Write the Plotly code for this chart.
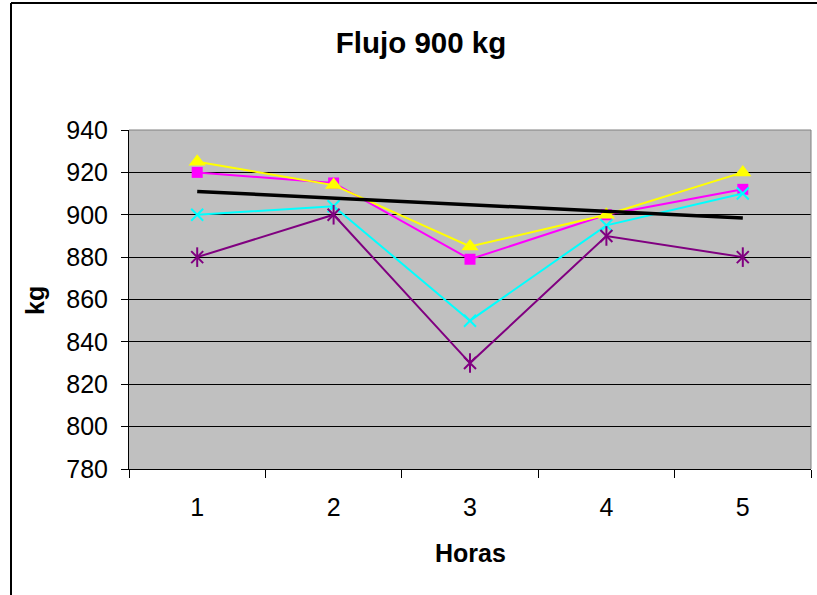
import plotly.graph_objects as go

horas = [1, 2, 3, 4, 5]
tick_labels = ["1", "2", "3", "4", "5"]
serie_cuadro = [920, 915, 879, 900, 912]     # magenta squares
serie_triangulo = [925, 914, 885, 900, 920]  # yellow triangles
serie_equis = [900, 904, 850, 895, 910]      # cyan x
serie_estrella = [880, 900, 830, 890, 880]   # purple stars
tendencia_x = [1, 5]
tendencia_y = [911, 898.5]                   # black trend line
y_ticks = [780, 800, 820, 840, 860, 880, 900, 920, 940]

W, H = 817, 595
L, R, T, B = 129, 6, 130, 126

fig = go.Figure()

fig.add_trace(go.Scatter(x=horas, y=serie_cuadro, mode="lines+markers",
                         line=dict(color="#FF00FF", width=2),
                         marker=dict(symbol="square", size=11, color="#FF00FF")))
fig.add_trace(go.Scatter(x=horas, y=serie_triangulo, mode="lines+markers",
                         line=dict(color="#FFFF00", width=2),
                         marker=dict(symbol="triangle-up", size=15, color="#FFFF00")))
fig.add_trace(go.Scatter(x=horas, y=serie_equis, mode="lines+markers",
                         line=dict(color="#00FFFF", width=2),
                         marker=dict(symbol="x-thin-open", size=12, color="#00FFFF",
                                     line=dict(color="#00FFFF", width=2))))
fig.add_trace(go.Scatter(x=horas, y=serie_estrella, mode="lines+markers",
                         line=dict(color="#800080", width=2),
                         marker=dict(symbol="x-thin-open", size=12, color="#800080",
                                     line=dict(color="#800080", width=2))))
fig.add_trace(go.Scatter(x=horas, y=serie_estrella, mode="markers",
                         marker=dict(symbol="line-ns-open", size=14, color="#800080",
                                     line=dict(color="#800080", width=2))))
fig.add_trace(go.Scatter(x=tendencia_x, y=tendencia_y, mode="lines",
                         line=dict(color="black", width=3.5)))

pw = W - L - R
ph = H - T - B
def px_x(v):
    return (v - L) / pw
def px_y(v):
    return (H - B - v) / ph

fig.update_layout(
    width=W, height=H,
    margin=dict(l=L, r=R, t=T, b=B),
    paper_bgcolor="white",
    plot_bgcolor="#C0C0C0",
    showlegend=False,
    font=dict(family="Arial, Liberation Sans, sans-serif", color="black", size=25),
    title=dict(text="<b>Flujo 900 kg</b>", x=421 / W, xref="container", xanchor="center",
               y=1 - 43 / H, yref="container", yanchor="middle",
               font=dict(size=29.5)),
    xaxis=dict(range=[0.5, 5.5], tickmode="array", tickvals=horas, ticktext=tick_labels,
               ticks="", showgrid=False, zeroline=False,
               showline=True, linecolor="black", linewidth=1, mirror=False,
               ticklabelstandoff=16,
               minor=dict(tickmode="array", tickvals=[0.5, 1.5, 2.5, 3.5, 4.5, 5.5],
                          ticks="outside", ticklen=8, tickcolor="black", tickwidth=1,
                          showgrid=False)),
    yaxis=dict(range=[780, 940], tickmode="array", tickvals=y_ticks,
               ticks="outside", ticklen=7, tickcolor="black",
               showgrid=True, gridcolor="black", gridwidth=1, zeroline=False,
               showline=True, linecolor="black", linewidth=1,
               ticklabelstandoff=8),
    annotations=[
        dict(text="<b>kg</b>", x=px_x(35), y=px_y(301), xref="paper", yref="paper",
             xanchor="center", yanchor="middle",
             showarrow=False, textangle=-90, font=dict(size=25)),
        dict(text="<b>Horas</b>", x=px_x(470), y=px_y(553), xref="paper",
             yref="paper", xanchor="center", yanchor="middle", showarrow=False,
             font=dict(size=25)),
    ],
)

# plot area border on top and right (gray)
fig.add_shape(type="line", xref="paper", yref="paper", x0=0, x1=1, y0=1, y1=1,
              line=dict(color="#808080", width=1))
fig.add_shape(type="line", xref="paper", yref="paper", x0=1, x1=1, y0=0, y1=1,
              line=dict(color="#808080", width=1))
# outer chart frame (left and top edges visible)
fig.add_shape(type="line", xref="paper", yref="paper", x0=px_x(11), x1=px_x(11),
              y0=px_y(3), y1=px_y(H + 5), line=dict(color="black", width=2))
fig.add_shape(type="line", xref="paper", yref="paper", x0=px_x(11), x1=px_x(W + 5),
              y0=px_y(3), y1=px_y(3), line=dict(color="black", width=2))

fig.write_html("out.html", config={"displayModeBar": False},
               post_script="document.body.style.margin='0';document.body.style.overflow='hidden';")
